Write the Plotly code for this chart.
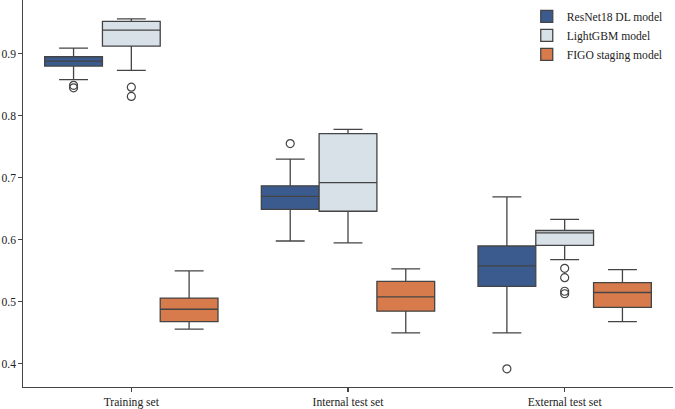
import plotly.graph_objects as go

groups = ["Training set", "Internal test set", "External test set"]
models = ["ResNet18 DL model", "LightGBM model", "FIGO staging model"]

# per model, values for [Training, Internal, External]
resnet_low = [0.858, 0.598, 0.450]
resnet_q1 = [0.880, 0.649, 0.525]
resnet_med = [0.888, 0.670, 0.558]
resnet_q3 = [0.895, 0.687, 0.590]
resnet_up = [0.909, 0.730, 0.669]
resnet_out = [[0.849, 0.845], [0.755], [0.392]]

lgbm_low = [0.873, 0.595, 0.568]
lgbm_q1 = [0.912, 0.646, 0.591]
lgbm_med = [0.938, 0.692, 0.611]
lgbm_q3 = [0.952, 0.771, 0.615]
lgbm_up = [0.956, 0.778, 0.633]
lgbm_out = [[0.846, 0.831], [], [0.554, 0.539, 0.517, 0.513]]

figo_low = [0.456, 0.450, 0.468]
figo_q1 = [0.468, 0.485, 0.491]
figo_med = [0.488, 0.508, 0.515]
figo_q3 = [0.506, 0.533, 0.531]
figo_up = [0.550, 0.553, 0.552]
figo_out = [[], [], []]

colors = ["#3b5a8e", "#d8e0e8", "#d87b4c"]
edge = "#444444"

series = [
    (resnet_low, resnet_q1, resnet_med, resnet_q3, resnet_up, resnet_out),
    (lgbm_low, lgbm_q1, lgbm_med, lgbm_q3, lgbm_up, lgbm_out),
    (figo_low, figo_q1, figo_med, figo_q3, figo_up, figo_out),
]

n = len(models)
group_w = 0.8
bw = group_w / n

fig = go.Figure()
for k, (name, (lo, q1, med, q3, up, outs)) in enumerate(zip(models, series)):
    off = -group_w / 2 + bw * (k + 0.5)
    xs = [i + off for i in range(len(groups))]
    fig.add_trace(go.Box(
        x=xs, q1=q1, median=med, q3=q3, lowerfence=lo, upperfence=up,
        width=bw, name=name, fillcolor=colors[k],
        line=dict(color=edge, width=1.3), whiskerwidth=0.5,
        boxpoints=False, hoverinfo="skip",
    ))
    ox, oy = [], []
    for i, vals in enumerate(outs):
        for v in vals:
            ox.append(i + off)
            oy.append(v)
    if ox:
        fig.add_trace(go.Scatter(
            x=ox, y=oy, mode="markers", showlegend=False, hoverinfo="skip",
            marker=dict(symbol="circle-open", size=8, color=edge, line=dict(width=1.2)),
        ))

font = dict(family="Liberation Serif, Times New Roman, serif", size=11.6, color="#222222")
fig.update_layout(
    width=675, height=409,
    margin=dict(l=23, r=2, t=0, b=20),
    paper_bgcolor="white", plot_bgcolor="white",
    font=font,
    boxmode="overlay",
    showlegend=True,
    hovermode=False,
    legend=dict(x=0.775, y=0.995, xanchor="left", yanchor="top",
                bgcolor="rgba(0,0,0,0)", font=font, tracegroupgap=0),
    xaxis=dict(
        range=[-0.5, 2.5], tickvals=list(range(len(groups))), ticktext=groups,
        showgrid=False, zeroline=False, showline=True, linecolor=edge, linewidth=1.2,
        ticks="outside", ticklen=3.5, tickcolor=edge, tickwidth=1.2,
    ),
    yaxis=dict(
        range=[0.3627, 0.9865], tickvals=[0.4, 0.5, 0.6, 0.7, 0.8, 0.9],
        ticktext=["0.4", "0.5", "0.6", "0.7", "0.8", "0.9"],
        showgrid=False, zeroline=False, showline=True, linecolor=edge, linewidth=1.2,
        ticks="outside", ticklen=3.5, tickcolor=edge, tickwidth=1.2,
    ),
)

fig.write_html(
    "out.html",
    config={"displayModeBar": False, "staticPlot": True},
    post_script="document.body.style.margin='0';document.body.style.overflow='hidden';",
)
